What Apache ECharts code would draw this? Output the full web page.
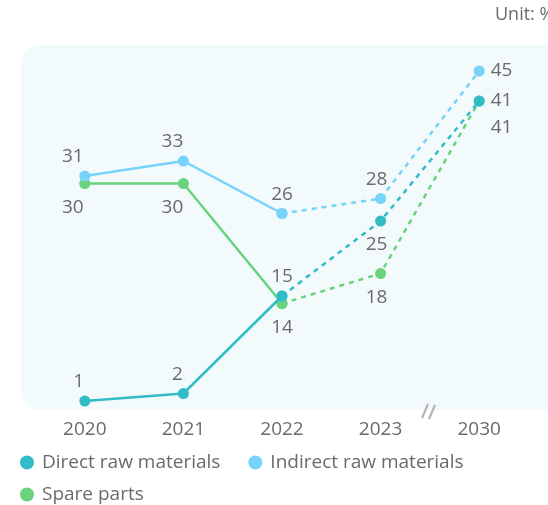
<!DOCTYPE html>
<html><head><meta charset="utf-8">
<script src="https://cdn.jsdelivr.net/npm/echarts@6/dist/echarts.min.js"></script>
<style>html,body{margin:0;padding:0;background:#fff}#c{width:548px;height:505px}</style>
</head><body><div id="c"></div>
<script>
var categories = ['2020', '2021', '2022', '2023', '2030'];
var seriesNames = ['Direct raw materials', 'Indirect raw materials', 'Spare parts'];
var directValues = [1, 2, 15, 25, 41];
var indirectValues = [31, 33, 26, 28, 45];
var spareValues = [30, 30, 14, 18, 41];
var unitLabel = 'Unit: %';

var colors = ['#30bdc8', '#76d3fb', '#69d47b'];
var FONT = '"Open Sans", sans-serif';
var TXT = '#6a6a6a';
// label style per point: [position, dx, dy]
var labelCfg = [
  [['top',-6,0],['top',-6,0],['top',0,0],['bottom',-4,0],['right',0,0]],
  [['top',-12,0],['top',-11,0],['top',0,0],['top',-4,0],['right',0,0]],
  [['bottom',-12,0],['bottom',-11,0],['bottom',0,0],['bottom',-4,0],['right',0,27]]
];
var allValues = [directValues, indirectValues, spareValues];

function makeData(vals, cfg, from, to) {
  return vals.map(function (v, i) {
    if (i < from || i > to) return '-';
    var c = cfg[i];
    var showLabel = !(from === 2 && i === 2);
    return {
      value: v,
      label: {
        show: showLabel,
        position: c[0],
        offset: [c[1], c[2]],
        distance: c[0] === 'bottom' ? 9 : (c[0] === 'right' ? 6 : 4)
      }
    };
  });
}

var series = [];
allValues.forEach(function (vals, k) {
  var base = {
    name: seriesNames[k],
    type: 'line',
    symbol: 'circle',
    symbolSize: 11,
    color: colors[k],
    itemStyle: { color: colors[k] },
    label: { color: TXT, fontSize: 19, fontFamily: FONT },
    z: 3 - k
  };
  series.push(Object.assign({}, base, {
    data: makeData(vals, labelCfg[k], 0, 2),
    lineStyle: { width: 2.5, type: 'solid', color: colors[k] }
  }));
  series.push(Object.assign({}, base, {
    data: makeData(vals, labelCfg[k], 2, 4),
    lineStyle: { width: 2.5, type: [5, 5], color: colors[k] }
  }));
});

var legendText = { color: TXT, fontSize: 19, fontFamily: FONT, padding: [0, 0, 0, 3] };
var chart = echarts.init(document.getElementById('c'), null, { renderer: 'canvas' });
chart.setOption({
  animation: false,
  textStyle: { fontFamily: FONT },
  graphic: [
    { type: 'rect', z: -10, silent: true,
      shape: { x: 21, y: 45, width: 560, height: 365, r: 20 },
      style: { fill: '#f2fafc' } },
    { type: 'text', left: 495, top: 6,
      style: { text: unitLabel, fill: TXT, font: '18px "Open Sans", sans-serif' } },
    { type: 'line', shape: { x1: 422, y1: 418, x2: 428, y2: 404 },
      style: { stroke: '#b0b0b0', lineWidth: 2 } },
    { type: 'line', shape: { x1: 429, y1: 419, x2: 435, y2: 405 },
      style: { stroke: '#b0b0b0', lineWidth: 2 } }
  ],
  grid: { left: 35.5, right: 19.5, top: 48.5, bottom: 96.5, containLabel: false },
  xAxis: {
    type: 'category', data: categories, boundaryGap: true,
    axisLine: { show: false }, axisTick: { show: false },
    axisLabel: { color: TXT, fontSize: 19, fontFamily: FONT, margin: 12 }
  },
  yAxis: {
    type: 'value', min: 0, max: 48, show: false, splitLine: { show: false }
  },
  legend: [
    {
      data: seriesNames.slice(0, 2).map(function (n) { return { name: n, icon: 'circle' }; }),
      left: 15, top: 448, itemWidth: 14, itemHeight: 14, itemGap: 28,
      textStyle: legendText
    },
    {
      data: seriesNames.slice(2).map(function (n) { return { name: n, icon: 'circle' }; }),
      left: 15, top: 480, itemWidth: 14, itemHeight: 14, itemGap: 28,
      textStyle: legendText
    }
  ],
  series: series
});
</script></body></html>
